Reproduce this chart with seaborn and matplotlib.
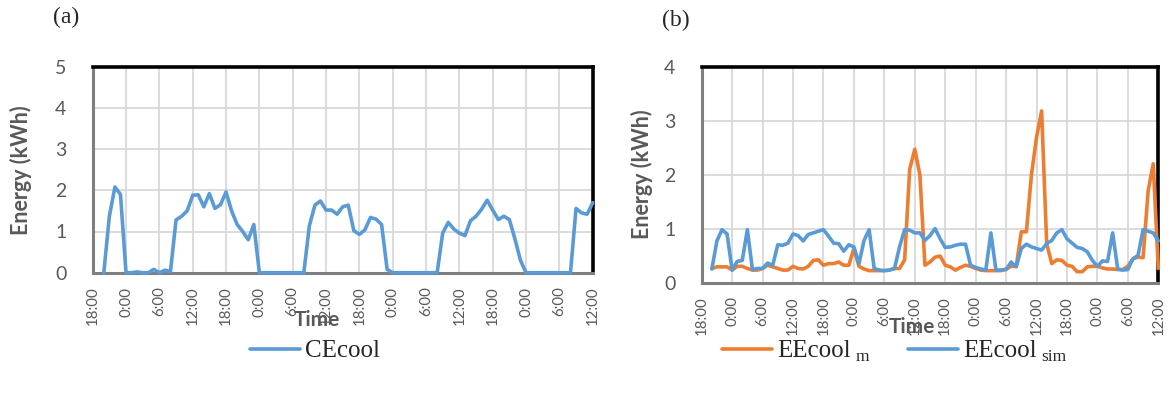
import numpy as np
import pandas as pd
import matplotlib
matplotlib.use("Agg")
import matplotlib.pyplot as plt
from matplotlib.lines import Line2D
import seaborn as sns

# Hourly time index (hours after 18:00 on the first day)
hours = np.arange(2, 91)

tick_hours = [0, 6, 12, 18, 24, 30, 36, 42, 48, 54, 60, 66, 72, 78, 84, 90]
tick_labels = ["18:00", "0:00", "6:00", "12:00", "18:00", "0:00", "6:00", "12:00",
               "18:00", "0:00", "6:00", "12:00", "18:00", "0:00", "6:00", "12:00"]

# (a) cooling energy
ce_cool = [
    0.00, 1.37, 2.08, 1.90, 0.00, 0.00, 0.02, 0.00, 0.00, 0.08,
    0.00, 0.06, 0.03, 1.28, 1.37, 1.50, 1.88, 1.89, 1.60, 1.92,
    1.56, 1.65, 1.96, 1.50, 1.17, 1.00, 0.80, 1.17, 0.00, 0.00,
    0.00, 0.00, 0.00, 0.00, 0.00, 0.00, 0.00, 1.14, 1.64, 1.74,
    1.52, 1.52, 1.42, 1.60, 1.64, 1.02, 0.93, 1.04, 1.34, 1.30,
    1.17, 0.08, 0.00, 0.00, 0.00, 0.00, 0.00, 0.00, 0.00, 0.00,
    0.00, 0.96, 1.22, 1.06, 0.96, 0.90, 1.26, 1.37, 1.54, 1.76,
    1.52, 1.29, 1.37, 1.29, 0.82, 0.30, 0.00, 0.00, 0.00, 0.00,
    0.00, 0.00, 0.00, 0.00, 0.00, 1.56, 1.45, 1.42, 1.70,
]

# (b) electrical energy for cooling: measured and simulated
ee_cool_m = [
    0.26, 0.29, 0.29, 0.29, 0.23, 0.30, 0.30, 0.26, 0.23, 0.23,
    0.26, 0.32, 0.29, 0.26, 0.23, 0.23, 0.30, 0.26, 0.25, 0.30,
    0.41, 0.42, 0.32, 0.35, 0.35, 0.38, 0.32, 0.32, 0.63, 0.30,
    0.25, 0.22, 0.22, 0.22, 0.22, 0.23, 0.26, 0.26, 0.42, 2.10,
    2.47, 2.00, 0.32, 0.38, 0.47, 0.49, 0.32, 0.29, 0.23, 0.28,
    0.32, 0.30, 0.26, 0.23, 0.22, 0.22, 0.22, 0.22, 0.25, 0.30,
    0.30, 0.94, 0.94, 2.00, 2.69, 3.18, 0.72, 0.35, 0.42, 0.41,
    0.32, 0.30, 0.20, 0.20, 0.29, 0.30, 0.30, 0.27, 0.25, 0.25,
    0.24, 0.24, 0.30, 0.44, 0.47, 0.46, 1.70, 2.20, 0.26,
]
ee_cool_sim = [
    0.25, 0.77, 0.98, 0.90, 0.23, 0.39, 0.41, 0.98, 0.24, 0.26,
    0.26, 0.36, 0.32, 0.70, 0.69, 0.73, 0.90, 0.87, 0.77, 0.89,
    0.92, 0.95, 0.98, 0.86, 0.73, 0.72, 0.58, 0.70, 0.66, 0.35,
    0.78, 0.98, 0.26, 0.23, 0.22, 0.23, 0.26, 0.66, 0.98, 0.97,
    0.92, 0.92, 0.78, 0.87, 1.00, 0.81, 0.65, 0.66, 0.69, 0.71,
    0.71, 0.32, 0.28, 0.25, 0.23, 0.92, 0.23, 0.23, 0.24, 0.38,
    0.29, 0.63, 0.71, 0.66, 0.63, 0.60, 0.72, 0.78, 0.92, 0.98,
    0.81, 0.73, 0.65, 0.63, 0.57, 0.41, 0.30, 0.40, 0.39, 0.92,
    0.25, 0.23, 0.24, 0.44, 0.50, 0.98, 0.95, 0.92, 0.77,
]
ee_subscripts = ["m", "sim"]

BLUE = "#5B9BD5"
ORANGE = "#ED7D31"
GREY = "#595959"
GRID = "#D9D9D9"
SERIF = "Liberation Serif"

sns.set_theme(style="white")
plt.rcParams["font.family"] = ["Lato", "DejaVu Sans"]

fig = plt.figure(figsize=(11.75, 3.94), dpi=100)
W, H = 1175, 394


def add_axes(left, right, top, bottom):
    return fig.add_axes([left / W, 1 - bottom / H, (right - left) / W, (bottom - top) / H])


ax_a = add_axes(92.7, 592.7, 66.7, 272.7)
ax_b = add_axes(701.7, 1158.3, 66.7, 282.5)

df_a = pd.DataFrame({"hour": hours, "CEcool": ce_cool})
df_b = pd.DataFrame({"hour": np.concatenate([hours, hours]),
                     "energy": ee_cool_m + ee_cool_sim,
                     "series": ["m"] * len(hours) + ["sim"] * len(hours)})

sns.lineplot(data=df_a, x="hour", y="CEcool", ax=ax_a, color=BLUE, lw=2.6,
             legend=False, clip_on=False, zorder=5)
sns.lineplot(data=df_b, x="hour", y="energy", hue="series", ax=ax_b,
             palette={"m": ORANGE, "sim": BLUE}, lw=2.6, legend=False,
             clip_on=False, zorder=5)


def style_axes(ax, ymax, ylabel_x, xlabel_xy):
    ax.set_xlim(0, 90)
    ax.set_ylim(0, ymax)
    ax.set_xticks(tick_hours)
    ax.set_xticklabels(tick_labels, rotation=90, fontsize=10.8, color=GREY)
    ax.set_yticks(range(0, ymax + 1))
    ax.set_yticklabels([str(v) for v in range(0, ymax + 1)], fontsize=14, color=GREY)
    ax.tick_params(axis="both", length=0)
    ax.tick_params(axis="x", pad=10)
    ax.tick_params(axis="y", pad=19)
    ax.grid(True, color=GRID, lw=1.3)
    ax.set_axisbelow(True)
    for side in ("top", "right"):
        ax.spines[side].set_color("black")
        ax.spines[side].set_linewidth(2.6)
    for side in ("left", "bottom"):
        ax.spines[side].set_color("#7F7F7F")
        ax.spines[side].set_linewidth(2.2)
    ax.set_ylabel("Energy (kWh)", fontsize=15.5, fontweight="bold", color=GREY)
    ax.yaxis.set_label_coords(ylabel_x, 0.5)
    ax.set_xlabel("Time", fontsize=15, fontweight="bold", color=GREY)
    ax.xaxis.set_label_coords(*xlabel_xy)


style_axes(ax_a, 5, -0.121, (0.449, -0.18))
style_axes(ax_b, 4, -0.107, (0.46, -0.16))

leg_kw = dict(frameon=False, handlelength=2.0, handletextpad=0.2,
              prop={"family": SERIF, "size": 18}, borderaxespad=0, borderpad=0)
ax_a.legend([Line2D([], [], color=BLUE, lw=2.6)], ["CEcool"], loc="center",
            bbox_to_anchor=(315 / W, 1 - 351 / H), bbox_transform=fig.transFigure,
            **leg_kw)
leg_b = ax_b.legend([Line2D([], [], color=ORANGE, lw=2.6), Line2D([], [], color=BLUE, lw=2.6)],
                    ["EEcool", "EEcool"], ncol=2, columnspacing=2.3, loc="center left",
                    bbox_to_anchor=(722 / W, 1 - 351 / H), bbox_transform=fig.transFigure,
                    **leg_kw)

# Small subscripts after each "EEcool" legend entry
fig.canvas.draw()
renderer = fig.canvas.get_renderer()
for txt, sub in zip(leg_b.get_texts(), ee_subscripts):
    bb = txt.get_window_extent(renderer)
    fig.text((bb.x1 + 5) / fig.bbox.width, (bb.y0 + 1) / fig.bbox.height, sub,
             family=SERIF, fontsize=12.5, ha="left", va="baseline")

fig.text(66 / W, 1 - 17 / H, "(a)", family=SERIF, fontsize=17, ha="center", va="center")
fig.text(676 / W, 1 - 20 / H, "(b)", family=SERIF, fontsize=17, ha="center", va="center")

fig.savefig("out.png", dpi=100, facecolor="white")
